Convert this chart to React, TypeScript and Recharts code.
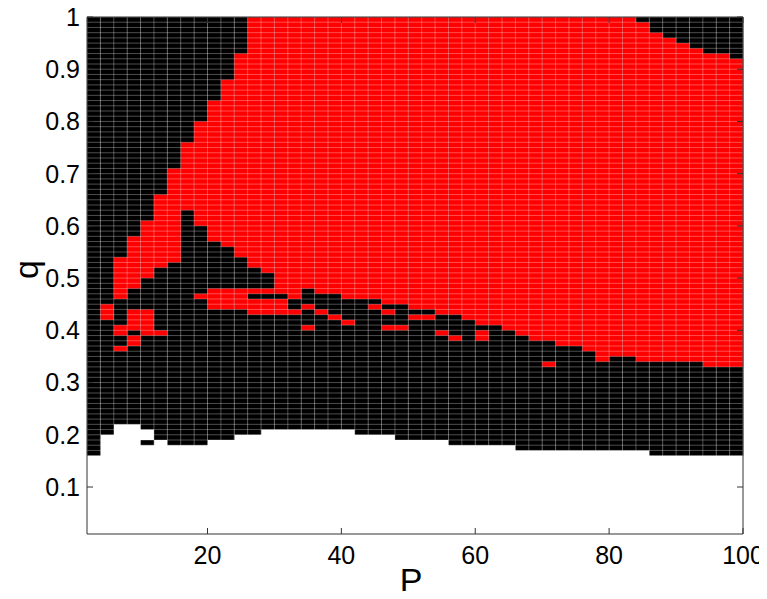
import { ComposedChart, Bar, XAxis, YAxis, ReferenceLine, Label } from 'recharts';

// left edge of every P column (columns are 2 wide)
const P_START = [
  2, 4, 6, 8, 10, 12, 14, 16, 18, 20, 22, 24, 26, 28, 30, 32, 34, 36, 38, 40, 42, 44, 46, 48, 50,
  52, 54, 56, 58, 60, 62, 64, 66, 68, 70, 72, 74, 76, 78, 80, 82, 84, 86, 88, 90, 92, 94, 96, 98,
];

// q where the empty (white) zone ends, per column
const WHITE_TOP = [
  0.16, 0.2, 0.22, 0.22, 0.21, 0.19, 0.18, 0.18, 0.18, 0.19, 0.19, 0.2, 0.2,
  0.21, 0.21, 0.21, 0.21, 0.21, 0.21, 0.21,
  0.2, 0.2, 0.2,
  0.19, 0.19, 0.19, 0.19,
  0.18, 0.18, 0.18, 0.18, 0.18,
  0.17, 0.17, 0.17, 0.17, 0.17, 0.17, 0.17, 0.17, 0.17, 0.17,
  0.16, 0.16, 0.16, 0.16, 0.16, 0.16, 0.16,
];

// main red region, lower and upper q per column
const RED_LOW = [
  null, 0.42, 0.46, 0.48, 0.5, 0.52, 0.53, 0.63, 0.6, 0.57, 0.56, 0.54, 0.52, 0.51, 0.47, 0.46,
  0.48, 0.47, 0.47, 0.46, 0.46, 0.46, 0.45, 0.45, 0.44, 0.44, 0.43, 0.43, 0.42, 0.41, 0.41, 0.4,
  0.39, 0.38, 0.38, 0.37, 0.37, 0.36, 0.34, 0.35, 0.35, 0.34, 0.34, 0.34, 0.34, 0.34, 0.33, 0.33,
  0.33,
];
const RED_HIGH = [
  null, 0.45, 0.54, 0.58, 0.61, 0.66, 0.71, 0.76, 0.8, 0.84, 0.88, 0.93,
  1, 1, 1, 1, 1, 1, 1, 1, 1, 1, 1, 1, 1, 1, 1, 1, 1, 1, 1, 1, 1, 1, 1, 1, 1, 1, 1, 1, 1,
  0.99, 0.97, 0.96, 0.95, 0.94, 0.93, 0.93, 0.92,
];

// small red islands: [P, qLow, qHigh]
const RED_PATCHES: [number, number, number][] = [
  [6, 0.39, 0.41], [6, 0.36, 0.37],
  [8, 0.4, 0.44], [8, 0.37, 0.39],
  [10, 0.39, 0.44],
  [12, 0.39, 0.4],
  [18, 0.46, 0.47],
  [20, 0.44, 0.48], [22, 0.44, 0.48], [24, 0.44, 0.48],
  [26, 0.47, 0.48], [26, 0.43, 0.46],
  [28, 0.47, 0.48], [28, 0.43, 0.46],
  [30, 0.43, 0.46],
  [32, 0.43, 0.44],
  [34, 0.44, 0.45], [34, 0.4, 0.41],
  [36, 0.43, 0.44],
  [38, 0.42, 0.43],
  [40, 0.41, 0.42],
  [44, 0.44, 0.45],
  [46, 0.43, 0.44], [46, 0.4, 0.41],
  [48, 0.4, 0.41],
  [50, 0.42, 0.43], [52, 0.42, 0.43],
  [54, 0.39, 0.4],
  [56, 0.38, 0.39],
  [60, 0.38, 0.4],
  [70, 0.33, 0.34],
];

// small black island inside the white zone
const BLACK_PATCHES: [number, number, number][] = [[10, 0.18, 0.19]];

const X_TICKS = [20, 40, 60, 80, 100];
const Y_TICKS = [0.1, 0.2, 0.3, 0.4, 0.5, 0.6, 0.7, 0.8, 0.9, 1];

const RED = '#ff0000';
const BLACK = '#000000';
const MESH = 'rgba(255,255,255,0.3)';
const FONT = '"Liberation Sans", Arial, Helvetica, sans-serif';

const data = P_START.map((p, i) => {
  const row: Record<string, any> = {
    p,
    dark: [WHITE_TOP[i], 1],
    red: RED_LOW[i] == null ? null : [RED_LOW[i], RED_HIGH[i]],
  };
  RED_PATCHES.filter((r) => r[0] === p).forEach((r, j) => {
    row[`patch${j}`] = [r[1], r[2]];
  });
  BLACK_PATCHES.filter((r) => r[0] === p).forEach((r) => {
    row.hole = [r[1], r[2]];
  });
  return row;
});

const layers = [
  { key: 'dark', fill: BLACK },
  { key: 'red', fill: RED },
  { key: 'patch0', fill: RED },
  { key: 'patch1', fill: RED },
  { key: 'hole', fill: BLACK },
];

// mesh lines of the pcolor grid
const meshX = Array.from({ length: 50 }, (_, i) => 2 + 2 * i);
const meshY = Array.from({ length: 100 }, (_, i) => +((i + 1) / 100).toFixed(2));

const cellShape = (fill: string) => (props: any) => {
  let { x, y, width, height } = props;
  if (![x, y, width, height].every(Number.isFinite) || height === 0) return <g />;
  if (height < 0) {
    y += height;
    height = -height;
  }
  return <rect x={x} y={y} width={width + 0.6} height={height} fill={fill} />;
};

const QTitle = (props: any) => {
  const vb = props.viewBox;
  const cx = 30;
  const cy = vb.y + vb.height / 2 - 6;
  return (
    <text x={cx} y={cy} transform={`rotate(-90 ${cx} ${cy})`} textAnchor="middle"
      fontFamily={FONT} fontSize={34} fill="#000">q</text>
  );
};

const PTitle = (props: any) => {
  const vb = props.viewBox;
  return (
    <text x={vb.x + vb.width / 2 - 4} y={vb.y + 58} textAnchor="middle"
      fontFamily={FONT} fontSize={34} fill="#000">P</text>
  );
};

const tickStyle = { fontSize: 25, fontFamily: FONT, fill: '#000' };

export default function App() {
  return (
    // negative bottom margin cancels the body margin so the page does not scroll
    <div style={{ width: 759, height: 591, marginBottom: -8 }}>
      <style>{'.recharts-surface { overflow: visible; }'}</style>
      <ComposedChart width={759} height={591} data={data} barCategoryGap={0}
        margin={{ top: 0, right: 0, bottom: 0, left: 0 }}>
        {layers.map((l) => (
          <XAxis key={l.key} xAxisId={`c_${l.key}`} dataKey="p" type="category" hide height={0} />
        ))}
        {layers.map((l) => (
          <Bar key={l.key} xAxisId={`c_${l.key}`} dataKey={l.key} fill={l.fill}
            shape={cellShape(l.fill)} isAnimationActive={false} />
        ))}
        {meshX.map((v) => (
          <ReferenceLine key={`mx${v}`} xAxisId="num" x={v} stroke={MESH} strokeWidth={1} />
        ))}
        {meshY.map((v) => (
          <ReferenceLine key={`my${v}`} xAxisId="num" y={v} stroke={MESH} strokeWidth={1} />
        ))}
        <XAxis xAxisId="num" dataKey="p" type="number" domain={[2, 100]} ticks={X_TICKS}
          allowDataOverflow interval={0}
          height={65} tickSize={-6} tickMargin={18} tick={tickStyle}
          axisLine={{ stroke: '#333' }} tickLine={{ stroke: '#333' }}>
          <Label content={PTitle} />
        </XAxis>
        <XAxis xAxisId="top" dataKey="p" orientation="top" type="number" domain={[2, 100]}
          ticks={X_TICKS} allowDataOverflow interval={0} height={9} tickSize={-6}
          tickFormatter={() => ''}
          axisLine={{ stroke: '#333' }} tickLine={{ stroke: '#333' }} />
        <YAxis type="number" domain={[0.01, 1]} ticks={Y_TICKS} allowDataOverflow width={79}
          interval={0} tickSize={-6} tickMargin={13} tick={tickStyle}
          tickFormatter={(v) => String(v)}
          axisLine={{ stroke: '#333' }} tickLine={{ stroke: '#333' }}>
          <Label content={QTitle} />
        </YAxis>
        <YAxis yAxisId="right" orientation="right" type="number" domain={[0.01, 1]}
          ticks={Y_TICKS} allowDataOverflow interval={0} width={24} tickSize={-6}
          tickFormatter={() => ''}
          axisLine={{ stroke: '#333' }} tickLine={{ stroke: '#333' }} />
      </ComposedChart>
    </div>
  );
}
